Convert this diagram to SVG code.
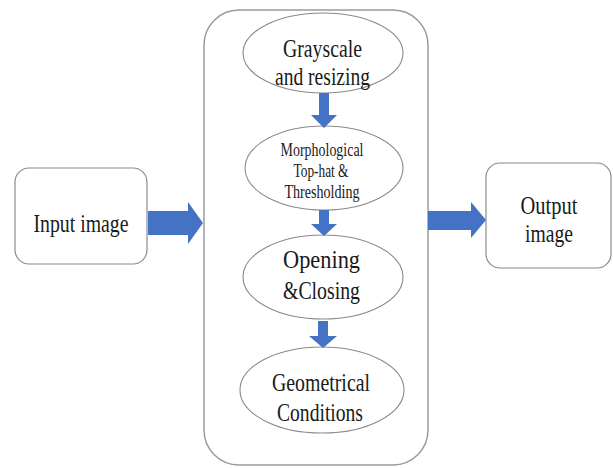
<svg xmlns="http://www.w3.org/2000/svg" width="613" height="468" viewBox="0 0 613 468">
<style>
.box{fill:#fff;stroke:#8a8a8a;stroke-width:1.2}
.cont{fill:#fff;stroke:#9a9a9a;stroke-width:1.5}
.ell{fill:#fff;stroke:#8a8a8a;stroke-width:1.1}
.t{font-family:"Liberation Serif","DejaVu Serif",serif;font-size:26px;fill:#1a1a1a;text-anchor:middle}
.s{font-size:18px}
.o{font-size:25px}
.arr{fill:#4472C4}
</style>
<rect width="613" height="468" fill="#fff"/>
<g id="container"><rect class="cont" x="204" y="10" width="224" height="455" rx="35"/></g>
<g id="input">
<rect class="box" x="15" y="168" width="132" height="96" rx="14"/>
<text class="t" x="81" y="232" textLength="95" lengthAdjust="spacingAndGlyphs">Input image</text>
</g>
<g id="output">
<rect class="box" x="486" y="163" width="125" height="105" rx="14"/>
<text class="t o" x="549" y="214" textLength="57" lengthAdjust="spacingAndGlyphs">Output</text>
<text class="t o" x="549" y="242" textLength="48" lengthAdjust="spacingAndGlyphs">image</text>
</g>
<g id="grayscale">
<ellipse class="ell" cx="323" cy="53" rx="80" ry="40"/>
<text class="t" x="322.5" y="57" textLength="79" lengthAdjust="spacingAndGlyphs">Grayscale</text>
<text class="t" x="322.5" y="85" textLength="95" lengthAdjust="spacingAndGlyphs">and resizing</text>
</g>
<g id="morph">
<ellipse class="ell" cx="324" cy="168" rx="79" ry="42"/>
<text class="t s" x="322" y="156" textLength="83" lengthAdjust="spacingAndGlyphs">Morphological</text>
<text class="t s" x="321" y="177" textLength="55" lengthAdjust="spacingAndGlyphs">Top-hat &amp;</text>
<text class="t s" x="322" y="198" textLength="75" lengthAdjust="spacingAndGlyphs">Thresholding</text>
</g>
<g id="opening">
<ellipse class="ell" cx="323" cy="277" rx="80" ry="42"/>
<text class="t" x="321.5" y="268" textLength="77" lengthAdjust="spacingAndGlyphs">Opening</text>
<text class="t" x="321.5" y="299" textLength="77" lengthAdjust="spacingAndGlyphs">&amp;Closing</text>
</g>
<g id="geometrical">
<ellipse class="ell" cx="322" cy="390" rx="82" ry="43"/>
<text class="t" x="321" y="391" textLength="98" lengthAdjust="spacingAndGlyphs">Geometrical</text>
<text class="t" x="320" y="421" textLength="86" lengthAdjust="spacingAndGlyphs">Conditions</text>
</g>
<g id="connectors">
<polygon class="arr" points="148,211 188,211 188,202 203,223 188,244 188,235 148,235"/>
<polygon class="arr" points="428,211 471,211 471,202 486,220 471,238 471,230 428,230"/>
<polygon class="arr" points="319,93 329,93 329,115 337,115 324,128 311,115 319,115"/>
<polygon class="arr" points="319,210 329,210 329,224 337,224 324,236 311,224 319,224"/>
<polygon class="arr" points="318,321 328,321 328,336 337,336 323,348 309,336 318,336"/>
</g>
</svg>
